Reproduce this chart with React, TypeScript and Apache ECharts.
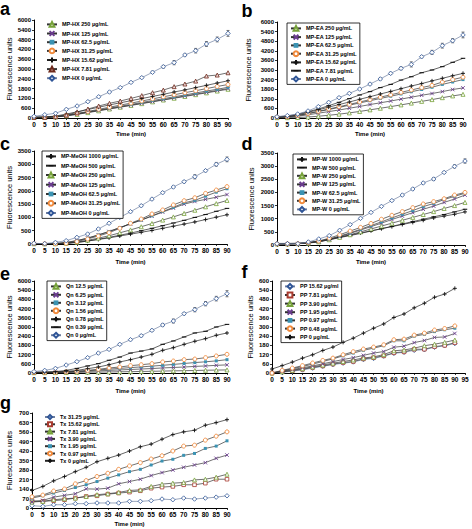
import React, { useEffect, useRef } from "react";
import * as echarts from "echarts";

const FONT = "'Liberation Sans', Arial, sans-serif";

const times = [0, 5, 10, 15, 20, 25, 30, 35, 40, 45, 50, 55, 60, 65, 70, 75, 80, 85, 90];

// ---------- panel a ----------
const aLabels = ["MP-HX 250 µg/mL", "MP-HX 125 µg/mL", "MP-HX 62.5 µg/mL", "MP-HX 31.25 µg/mL", "MP-HX 15.62 µg/mL", "MP-HX 7.81 µg/mL", "MP-HX 0 µg/mL"];
const a250 = [40, 40, 60, 130, 220, 330, 440, 550, 660, 770, 880, 990, 1100, 1210, 1320, 1430, 1540, 1650, 1760];
const a125 = [40, 40, 70, 140, 240, 350, 460, 570, 680, 790, 900, 1010, 1120, 1235, 1350, 1460, 1570, 1690, 1800];
const a62 = [40, 45, 80, 150, 260, 370, 480, 600, 720, 830, 950, 1070, 1180, 1300, 1410, 1530, 1650, 1760, 1880];
const a31 = [40, 45, 80, 160, 280, 400, 530, 660, 790, 910, 1040, 1170, 1300, 1420, 1550, 1670, 1800, 1930, 2050];
const a15 = [50, 60, 120, 240, 380, 520, 660, 800, 930, 1060, 1190, 1320, 1450, 1590, 1720, 1860, 2000, 2140, 2280];
const a7 = [40, 40, 80, 180, 350, 550, 735, 900, 1040, 1200, 1370, 1550, 1710, 1920, 2080, 2260, 2570, 2630, 2770];
const a0 = [100, 200, 290, 530, 735, 1000, 1300, 1590, 1860, 2180, 2470, 2800, 3140, 3390, 3860, 4120, 4530, 4810, 5180];
const aErr0 = [0, 0, 20, 30, 30, 40, 40, 40, 40, 50, 50, 60, 80, 130, 60, 140, 150, 150, 180];

// ---------- panel b ----------
const bLabels = ["MP-EA 250 µg/mL", "MP-EA 125 µg/mL", "MP-EA 62.5 µg/mL", "MP-EA 31.25 µg/mL", "MP-EA 15.62 µg/mL", "MP-EA 7.81 µg/mL", "MP-EA 0 µg/mL"];
const b250 = [20, 20, 30, 60, 110, 170, 240, 320, 410, 510, 610, 710, 820, 930, 1040, 1150, 1270, 1380, 1480];
const b125 = [40, 60, 110, 200, 300, 400, 500, 610, 720, 840, 950, 1060, 1180, 1300, 1420, 1530, 1650, 1780, 1880];
const b62 = [60, 80, 150, 270, 400, 530, 660, 800, 940, 1080, 1220, 1360, 1500, 1640, 1780, 1920, 2100, 2250, 2400];
const b31 = [60, 80, 160, 280, 420, 560, 700, 850, 1000, 1150, 1300, 1450, 1600, 1750, 1900, 2040, 2250, 2400, 2550];
const b15 = [70, 100, 200, 350, 510, 680, 840, 1000, 1170, 1330, 1500, 1660, 1830, 2000, 2150, 2320, 2480, 2640, 2790];
const b7 = [80, 125, 230, 400, 560, 770, 980, 1210, 1440, 1650, 1900, 2100, 2370, 2580, 2830, 3000, 3210, 3480, 3730];
const b0 = [80, 150, 250, 440, 710, 980, 1270, 1540, 1810, 2120, 2440, 2790, 3100, 3350, 3830, 4100, 4520, 4830, 5190];
const bErr0 = [0, 0, 20, 30, 30, 40, 40, 40, 40, 50, 60, 70, 90, 160, 70, 130, 150, 130, 180];

// ---------- panel c ----------
const cLabels = ["MP-MeOH 1000 µg/mL", "MP-MeOH 500 µg/mL", "MP-MeOH 250 µg/mL", "MP-MeOH 125 µg/mL", "MP-MeOH 62.5 µg/mL", "MP-MeOH 31.25 µg/mL", "MP-MeOH 0 µg/mL"];
const c1000 = [10, 5, 10, 30, 60, 110, 170, 230, 300, 370, 440, 510, 590, 670, 750, 830, 920, 1010, 1100];
const c500 = [10, 5, 10, 25, 60, 110, 180, 250, 330, 410, 500, 590, 690, 790, 890, 1000, 1110, 1230, 1340];
const c250 = [10, 5, 10, 30, 70, 140, 220, 310, 420, 530, 650, 770, 900, 1020, 1150, 1270, 1400, 1520, 1640];
const c125 = [15, 10, 20, 60, 130, 220, 340, 470, 610, 760, 900, 1050, 1200, 1350, 1500, 1600, 1680, 1760, 1860];
const c62 = [15, 10, 15, 50, 120, 220, 340, 470, 620, 760, 900, 1060, 1220, 1380, 1550, 1640, 1800, 1950, 2080];
const c31 = [20, 10, 10, 25, 90, 190, 300, 425, 590, 780, 940, 1130, 1280, 1470, 1630, 1740, 1905, 2030, 2160];
const c0 = [25, 15, 60, 125, 250, 375, 565, 780, 1000, 1215, 1440, 1690, 1930, 2145, 2345, 2530, 2760, 3000, 3185];
const cErr0 = [0, 0, 10, 10, 10, 15, 15, 20, 20, 20, 30, 30, 30, 30, 40, 80, 40, 70, 90];

// ---------- panel d ----------
const dLabels = ["MP-W 1000 µg/mL", "MP-W 500 µg/mL", "MP-W 250 µg/mL", "MP-W 125 µg/mL", "MP-W 62.5 µg/mL", "MP-W 31.25 µg/mL", "MP-W 0 µg/mL"];
const d1000 = [60, 60, 70, 100, 150, 220, 300, 380, 460, 540, 620, 700, 780, 860, 940, 1030, 1100, 1170, 1260];
const d500 = [50, 50, 60, 80, 130, 200, 280, 360, 440, 530, 620, 710, 800, 890, 980, 1070, 1160, 1260, 1360];
const d250 = [40, 40, 50, 70, 120, 200, 290, 390, 500, 610, 720, 830, 940, 1050, 1160, 1270, 1390, 1500, 1620];
const d125 = [40, 40, 50, 80, 130, 210, 320, 440, 570, 700, 830, 970, 1100, 1230, 1360, 1480, 1620, 1750, 1900];
const d62 = [40, 40, 50, 80, 130, 220, 340, 460, 600, 740, 880, 1030, 1170, 1310, 1460, 1580, 1730, 1850, 1970];
const d31 = [40, 40, 50, 90, 150, 260, 390, 530, 670, 820, 980, 1130, 1270, 1420, 1560, 1650, 1760, 1900, 2000];
const d0 = [50, 50, 50, 115, 230, 355, 560, 775, 1015, 1240, 1470, 1690, 1900, 2130, 2360, 2510, 2760, 2990, 3195];
const dErr0 = [0, 0, 10, 10, 10, 15, 15, 20, 20, 20, 30, 30, 30, 30, 30, 50, 40, 60, 80];

// ---------- panel e ----------
const eLabels = ["Qn 12.5 µg/mL", "Qn 6.25 µg/mL", "Qn 3.12 µg/mL", "Qn 1.56 µg/mL", "Qn 0.78 µg/mL", "Qn 0.39 µg/mL", "Qn 0 µg/mL"];
const e12 = [20, 20, 25, 30, 40, 50, 60, 70, 80, 90, 100, 110, 125, 140, 150, 165, 180, 190, 200];
const e6 = [30, 30, 40, 60, 80, 110, 140, 170, 200, 230, 260, 290, 330, 360, 390, 430, 460, 500, 530];
const e3 = [30, 30, 40, 70, 110, 150, 200, 250, 300, 350, 400, 450, 500, 560, 620, 680, 730, 790, 870];
const e1 = [30, 30, 40, 70, 110, 170, 240, 330, 390, 480, 540, 610, 720, 780, 870, 910, 1000, 1110, 1220];
const e078 = [40, 50, 70, 110, 170, 280, 390, 540, 720, 870, 1040, 1220, 1480, 1650, 1870, 2070, 2240, 2460, 2610];
const e039 = [50, 70, 90, 170, 300, 460, 610, 830, 1040, 1300, 1430, 1570, 1870, 2090, 2350, 2610, 2720, 3000, 3170];
const e0 = [90, 170, 300, 520, 740, 1000, 1300, 1540, 1870, 2170, 2430, 2780, 3130, 3390, 3870, 4130, 4520, 4850, 5170];
const eErr0 = [0, 0, 20, 30, 30, 40, 40, 40, 50, 50, 60, 70, 80, 130, 70, 140, 140, 150, 200];

// ---------- panel f ----------
const fLabels = ["PP 15.62 µg/ml", "PP 7.81 µg/mL", "PP 3.90 µg/mL", "PP 1.95 µg/mL", "PP 0.97 µg/mL", "PP 0.48 µg/mL", "PP 0 µg/mL"];
const f15 = [0, 5, 12, 20, 32, 44, 55, 64, 72, 88, 95, 110, 128, 135, 148, 152, 168, 178, 192];
const f7 = [0, 8, 15, 24, 36, 46, 58, 68, 75, 92, 100, 112, 132, 138, 155, 155, 172, 180, 198];
const f3 = [0, 8, 18, 28, 40, 52, 64, 75, 85, 98, 105, 120, 145, 150, 162, 178, 188, 200, 215];
const f1 = [0, 12, 22, 34, 46, 60, 74, 88, 100, 115, 130, 140, 168, 175, 198, 212, 232, 235, 258];
const f097 = [0, 14, 28, 42, 58, 75, 92, 112, 130, 148, 162, 178, 210, 210, 240, 252, 270, 282, 292];
const f048 = [0, 17, 32, 48, 65, 82, 97, 119, 139, 156, 169, 184, 217, 221, 247, 260, 280, 290, 307];
const f0 = [26, 48, 71, 97, 119, 147, 169, 200, 227, 260, 292, 320, 362, 385, 425, 455, 494, 515, 552];

// ---------- panel g ----------
const gLabels = ["Tx 31.25 µg/mL", "Tx 15.62 µg/mL", "Tx 7.81 µg/mL", "Tx 3.90 µg/mL", "Tx 1.95 µg/mL", "Tx 0.97 µg/mL", "Tx 0 µg/mL"];
const g31 = [17, 12, 24, 24, 32, 32, 37, 37, 37, 49, 49, 54, 66, 61, 73, 66, 73, 80, 90];
const g15 = [54, 49, 54, 61, 73, 85, 90, 102, 110, 117, 127, 146, 154, 159, 171, 171, 183, 212, 212];
const g7 = [44, 49, 61, 68, 73, 85, 98, 105, 115, 129, 134, 159, 176, 183, 188, 207, 212, 227, 249];
const g3 = [44, 56, 80, 93, 105, 141, 139, 146, 178, 195, 212, 239, 261, 280, 300, 317, 334, 366, 390];
const g1 = [73, 90, 110, 129, 151, 171, 195, 220, 244, 268, 285, 317, 346, 359, 388, 402, 439, 456, 495];
const g097 = [83, 95, 125, 140, 178, 202, 232, 256, 285, 310, 334, 361, 385, 420, 456, 463, 500, 529, 561];
const g0 = [129, 159, 200, 232, 268, 300, 341, 366, 390, 420, 451, 471, 507, 541, 561, 573, 610, 629, 651];

// ---------- marker styles ----------
const X_PATH = "path://M0,0L10,10M10,0L0,10";
const PLUS_PATH = "path://M5,0L5,10M0,5L10,5";
const DASH_PATH = "path://M0,0L0,0M0,3.8L10,3.8L10,6.2L0,6.2ZM10,10L10,10";

type Kind = { symbol: string; size: number; fill: string; stroke: string; line: string; bw: number };
const KIND: Record<string, Kind> = {
  triG: { symbol: "triangle", size: 4, fill: "#ffffff", stroke: "#77A23A", line: "#333333", bw: 0.8 },
  xP: { symbol: X_PATH, size: 3.5, fill: "#6B3D8F", stroke: "#6B3D8F", line: "#333333", bw: 0.9 },
  sqT: { symbol: "rect", size: 3, fill: "#3B93B3", stroke: "#3B93B3", line: "#333333", bw: 0 },
  circO: { symbol: "circle", size: 4, fill: "#ffffff", stroke: "#F08A3C", line: "#333333", bw: 0.9 },
  plusK: { symbol: PLUS_PATH, size: 4, fill: "#111111", stroke: "#111111", line: "#222222", bw: 0.9 },
  dashK: { symbol: DASH_PATH, size: 4.5, fill: "#111111", stroke: "#111111", line: "#222222", bw: 0 },
  triB: { symbol: "triangle", size: 4, fill: "#F2DCDB", stroke: "#6E2A1C", line: "#333333", bw: 0.8 },
  diaB: { symbol: "diamond", size: 4.5, fill: "#ffffff", stroke: "#2F5597", line: "#6F7FA0", bw: 0.8 },
  sqR: { symbol: "rect", size: 3.6, fill: "#ffffff", stroke: "#A83A2E", line: "#333333", bw: 0.8 },
};

const panels = [
  {
    letter: "a", letterX: 0, letterY: 9.4, labels: aLabels, values: [a250, a125, a62, a31, a15, a7, a0],
    kinds: ["triG", "xP", "sqT", "circO", "plusK", "triB", "diaB"], err: aErr0,
    xMax: 90, yMax: 6000, yInt: 600, yName: "Fluorescence units",
    grid: { left: 34, top: 20, width: 194, height: 98 }, yGap: 20, xGap: 13,
    legend: { left: 46, top: 21, gap: 2.3, border: false, ih: 6 },
  },
  {
    letter: "b", letterX: 241.5, letterY: 10.5, labels: bLabels, values: [b250, b125, b62, b31, b15, b7, b0],
    kinds: ["triG", "xP", "sqT", "circO", "plusK", "dashK", "diaB"], err: bErr0,
    xMax: 90, yMax: 6000, yInt: 600, yName: "Fluorescence units",
    grid: { left: 277, top: 22, width: 186, height: 96 }, yGap: 25, xGap: 13,
    legend: { left: 287, top: 23, gap: 1.9, border: true, ih: 6 },
  },
  {
    letter: "c", letterX: 0, letterY: 143.5, labels: cLabels, values: [c1000, c500, c250, c125, c62, c31, c0],
    kinds: ["plusK", "dashK", "triG", "xP", "sqT", "circO", "diaB"], err: cErr0,
    xMax: 90, yMax: 3500, yInt: 500, yName: "Fluorescence units",
    grid: { left: 34, top: 151, width: 193, height: 93 }, yGap: 20, xGap: 15,
    legend: { left: 42, top: 151, gap: 2.9, border: true, ih: 6 },
  },
  {
    letter: "d", letterX: 241.5, letterY: 143.5, labels: dLabels, values: [d1000, d500, d250, d125, d62, d31, d0],
    kinds: ["plusK", "dashK", "triG", "xP", "sqT", "circO", "diaB"], err: dErr0,
    xMax: 90, yMax: 3500, yInt: 500, yName: "Fluorescence units",
    grid: { left: 277, top: 153, width: 188, height: 92 }, yGap: 22, xGap: 14,
    legend: { left: 293, top: 154, gap: 1.8, border: true, ih: 6 },
  },
  {
    letter: "e", letterX: 0, letterY: 273.5, labels: eLabels, values: [e12, e6, e3, e1, e078, e039, e0],
    kinds: ["triG", "xP", "sqT", "circO", "plusK", "dashK", "diaB"], err: eErr0,
    xMax: 90, yMax: 6000, yInt: 600, yName: "Fluorescence units",
    grid: { left: 34, top: 281, width: 193, height: 92 }, yGap: 21, xGap: 15,
    legend: { left: 47, top: 281, gap: 1.6, border: true, ih: 6 },
  },
  {
    letter: "f", letterX: 241.5, letterY: 272, labels: fLabels, values: [f15, f7, f3, f1, f097, f048, f0],
    kinds: ["diaB", "sqR", "triG", "xP", "sqT", "circO", "plusK"], err: null,
    xMax: 95, yMax: 600, yInt: 60, yName: "Fluorescence units",
    grid: { left: 272, top: 281, width: 193, height: 92 }, yGap: 18, xGap: 15,
    legend: { left: 281, top: 281, gap: 1.8, border: true, ih: 6 },
  },
  {
    letter: "g", letterX: 0, letterY: 402.5, labels: gLabels, values: [g31, g15, g7, g3, g1, g097, g0],
    kinds: ["diaB", "sqR", "triG", "xP", "sqT", "circO", "plusK"], err: null,
    xMax: 90, yMax: 700, yInt: 70, yName: "Flurescence units",
    grid: { left: 32, top: 413, width: 195, height: 95 }, yGap: 19, xGap: 13,
    legend: { left: 44, top: 414, gap: 1.3, border: false, ih: 5 },
  },
];

function buildOption() {
  const grid: any[] = [];
  const xAxis: any[] = [];
  const yAxis: any[] = [];
  const legend: any[] = [];
  const series: any[] = [];
  const graphic: any[] = [];

  panels.forEach((p, pi) => {
    grid.push({ ...p.grid, containLabel: false });
    xAxis.push({
      gridIndex: pi, type: "value", min: 0, max: p.xMax, interval: 5,
      axisLine: { lineStyle: { color: "#000", width: 1 } },
      axisTick: { length: 2, lineStyle: { color: "#000", width: 0.8 } },
      axisLabel: { fontSize: 6.5, fontWeight: "bold", color: "#000", margin: 3, fontFamily: FONT, formatter: (v: number) => String(v) },
      splitLine: { show: false },
      name: "Time (min)", nameLocation: "middle", nameGap: p.xGap,
      nameTextStyle: { fontSize: 6, fontWeight: "bold", color: "#000", fontFamily: FONT },
    });
    yAxis.push({
      gridIndex: pi, type: "value", min: 0, max: p.yMax, interval: p.yInt,
      axisLine: { show: true, lineStyle: { color: "#000", width: 1 } },
      axisTick: { show: true, length: 2, lineStyle: { color: "#000", width: 0.8 } },
      axisLabel: { fontSize: 6, fontWeight: "bold", color: "#000", margin: 3, fontFamily: FONT, formatter: (v: number) => String(v) },
      splitLine: { show: false },
      name: p.yName, nameLocation: "middle", nameGap: p.yGap,
      nameTextStyle: { fontSize: 7.5, color: "#000", fontFamily: FONT },
    });
    legend.push({
      orient: "vertical", left: p.legend.left, top: p.legend.top,
      itemWidth: 10, itemHeight: p.legend.ih, itemGap: p.legend.gap,
      padding: p.legend.border ? [2, 3, 2, 3] : 0,
      borderColor: "#000", borderWidth: p.legend.border ? 0.8 : 0,
      backgroundColor: p.legend.border ? "#fff" : "transparent",
      textStyle: { fontSize: 5.5, fontWeight: "bold", color: "#000", fontFamily: FONT },
      data: p.labels, selectedMode: false,
    });
    graphic.push({
      type: "text", x: p.letterX, y: p.letterY,
      style: { text: p.letter, font: `bold 18px ${FONT}`, fill: "#000", align: "left", verticalAlign: "middle" },
    });

    if (p.err) {
      const zero = p.values[6];
      const errData = times.map((t, i) => [t, zero[i] - p.err![i], zero[i] + p.err![i]]);
      series.push({
        type: "custom", xAxisIndex: pi, yAxisIndex: pi, silent: true, z: 1,
        data: errData, encode: { x: 0, y: [1, 2] },
        renderItem: (params: any, api: any) => {
          const x = api.value(0);
          const lo = api.coord([x, api.value(1)]);
          const hi = api.coord([x, api.value(2)]);
          const st = { stroke: "#444", lineWidth: 0.7 };
          return {
            type: "group",
            children: [
              { type: "line", shape: { x1: lo[0], y1: lo[1], x2: hi[0], y2: hi[1] }, style: st },
              { type: "line", shape: { x1: lo[0] - 1.5, y1: lo[1], x2: lo[0] + 1.5, y2: lo[1] }, style: st },
              { type: "line", shape: { x1: hi[0] - 1.5, y1: hi[1], x2: hi[0] + 1.5, y2: hi[1] }, style: st },
            ],
          };
        },
      });
    }

    p.values.forEach((vals, si) => {
      const k = KIND[p.kinds[si]];
      series.push({
        type: "line", name: p.labels[si], xAxisIndex: pi, yAxisIndex: pi, z: 3,
        data: times.map((t, i) => [t, vals[i]]),
        symbol: k.symbol, symbolSize: k.size, showSymbol: true,
        lineStyle: { color: k.line, width: 0.7 },
        itemStyle: { color: k.fill, borderColor: k.stroke, borderWidth: k.bw },
        emphasis: { disabled: true },
      });
    });
  });

  return {
    animation: false,
    backgroundColor: "#ffffff",
    textStyle: { fontFamily: FONT },
    grid, xAxis, yAxis, legend, series, graphic,
  };
}

export default function App() {
  const ref = useRef<HTMLDivElement>(null);
  useEffect(() => {
    if (!ref.current) return;
    const chart = echarts.init(ref.current, undefined, { renderer: "svg" });
    chart.setOption(buildOption() as any);
    return () => chart.dispose();
  }, []);
  return (
    <div
      ref={ref}
      style={{ position: "absolute", left: 0, top: 0, width: 472, height: 529, background: "#fff" }}
    />
  );
}
